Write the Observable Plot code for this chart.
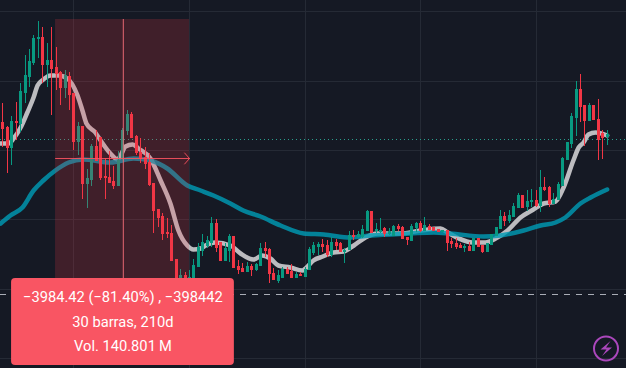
<!DOCTYPE html>
<html><head><meta charset="utf-8">
<script src="https://cdn.jsdelivr.net/npm/d3@7"></script>
<script src="https://cdn.jsdelivr.net/npm/@observablehq/plot@0.6"></script>
<style>html,body{margin:0;padding:0;background:#151924;overflow:hidden}#c{position:relative;width:626px;height:368px}#c svg.icon{position:absolute;left:592px;top:334px}</style>
</head><body><div id="c"></div>
<script>
const highs=[265,242,252,266,285,313,319,333,347,341,325,341,321,297,298,296,275,246,242,199,224,238,231,210,217,202,217,240,258,256,233,230,221,215,185,159,155,150,143,109,99,96,98,109,125,134,132,151,149,126,125,134,132,108,105,106,104,105,125,126,120,100,98,101,101,104,96,96,101,121,126,126,129,128,131,129,126,120,137,138,137,143,158,157,145,150,141,140,143,144,142,131,144,146,147,151,144,141,139,138,138,130,130,125,124,126,130,130,123,125,134,141,158,156,158,165,175,173,178,179,178,198,191,182,175,186,211,226,255,287,294,263,265,263,269,238,238];
const lows=[221,195,203,228,236,265,281,303,310,285,281,253,278,263,270,258,218,213,169,160,182,207,188,169,186,179,183,208,233,230,213,205,199,182,135,141,128,130,108,73,86,84,86,86,102,112,120,121,116,108,108,106,101,94,97,97,92,97,102,111,85,89,85,90,94,90,90,92,92,99,113,113,116,111,111,118,117,105,118,128,130,130,138,136,135,135,131,133,132,137,129,123,128,136,136,138,138,138,137,136,117,120,119,121,116,118,118,121,115,117,124,133,139,142,145,152,161,160,157,161,161,156,177,161,165,168,183,209,220,232,246,222,248,249,208,209,223];
const opens=[246,241,221,247,245,276,292,306,330,331,304,308,301,296,281,292,275,227,242,185,189,222,231,192,191,187,183,210,238,254,232,216,211,206,185,159,152,136,135,109,88,93,88,88,102,118,123,126,145,126,108,118,132,102,100,97,102,99,103,120,119,95,88,91,99,97,91,94,92,99,116,122,124,123,114,126,125,117,119,133,132,132,138,157,138,137,140,135,133,142,141,131,128,141,145,138,142,141,139,137,138,127,125,123,121,122,118,130,123,117,124,133,140,152,148,152,161,173,162,167,168,163,181,181,165,169,183,209,225,251,279,263,248,263,249,235,232];
const closes=[240,221,247,246,277,293,307,330,331,304,308,300,295,281,293,274,227,242,185,190,222,208,191,191,186,183,208,238,254,231,216,211,205,184,158,151,135,135,108,78,93,88,91,103,121,126,128,145,121,108,120,132,101,99,97,102,99,104,120,118,95,89,93,99,95,91,94,93,99,119,123,124,122,114,126,123,117,118,133,132,134,139,157,136,139,138,135,137,142,140,130,129,142,145,138,143,139,138,137,138,126,125,122,121,122,118,130,122,117,125,134,141,152,148,153,162,173,161,167,168,163,181,179,165,169,184,210,226,252,279,262,248,263,249,229,231,234];
const grayBars=[-0.5,1.3,2.4,4,5.5,6.9,7.8,9.1,10.7,12.5,14.5,16.8,17.9,18.8,20.8,22,24.2,25.8,26.5,27.6,29.2,30.5,33.2,35.5,37.7,39.5,41.5,42.9,44.5,45.6,47.8,51.2,53.5,56.4,58.4,60.2,62,64.7,67.4,68.1,69.9,72,74.4,76.7,79,81.6,84.3,87.2,89.5,94,98.5,100.1,102.6,105.7,108.6,110.9,113.6,116.5,119.4,121.7,124.4,126.2,128.4,129.6,130.7,131.8,133.4,136];
const grayVals=[225,225,230,241,256,271,283,289,293,293,290,273,258,245,236,228,215,209,213,222,224,220,210,188,165,138,123,119,120,123,126,123,115,109,113,110,103,101,98,100,108,112,116,117,123,131,135,135,135,138,140,136,130,126,126,130,138,151,159,165,167,181,208,221,226,234,236,233];
const tealBars=[-0.5,1.7,4.4,6.9,9.1,11.8,14.8,18.1,24.2,29.4,33.2,37,41.5,44.5,47.4,51.2,54.1,58,62.5,67.7,72.2,78.3,82.8,91.7,97,100.7,108.2,112,117.2,121,124.4,126.6,130,132.3,136];
const tealVals=[145,153,161,178,188,198,206,209,206,210,208,200,183,178,173,165,158,152,143,135,134,131,133,135,136,135,132,133,138,143,146,151,165,171,179];
const gridBars=[16,42,68,94,120];
const gridVals=[357,287,218,149,79,10];
const lastPrice=229, projection=74;
const measure={startBar:11.85,endBar:42,midBar:27.1,top:349,bottom:90,level:210};
const labelLines=["\u22123984.42 (\u221281.40%) , \u2212398442","30 barras, 210d","Vol. 140.801\u2009M"];
const labelVals=[71,46,22];

const bars=highs.map((h,i)=>({i,h,l:lows[i],o:opens[i],c:closes[i],col:closes[i]>=opens[i]?"#089981":"#f23645"}));
const gray=grayBars.map((b,i)=>({b,v:grayVals[i]}));
const teal=tealBars.map((b,i)=>({b,v:tealVals[i]}));
const Xmin=-0.54,Xmax=140.36;
const chart=Plot.plot({
  width:626,height:368,margin:0,
  style:{background:"#151924",display:"block"},
  x:{domain:[Xmin,Xmax],range:[0,626],axis:null},
  y:{domain:[0,368],range:[368,0],axis:null},
  marks:[
    Plot.ruleX(gridBars,{x:d=>d,stroke:"#252a35",strokeWidth:1,shapeRendering:"crispEdges"}),
    Plot.ruleY(gridVals,{y:d=>d,stroke:"#252a35",strokeWidth:1,shapeRendering:"crispEdges"}),
    Plot.ruleY([lastPrice],{y:d=>d,stroke:"#2a9d8c",strokeWidth:1,strokeDasharray:"1,3"}),
    Plot.ruleY([projection],{y:d=>d,stroke:"#a9adb6",strokeWidth:1,strokeDasharray:"6,6"}),
    Plot.line(gray,{x:"b",y:"v",stroke:"#bcbcc0",strokeWidth:4.5,curve:"monotone-x"}),
    Plot.line(teal,{x:"b",y:"v",stroke:"#009ab3",strokeOpacity:0.82,strokeWidth:4.5,curve:"monotone-x"}),
    Plot.ruleX(bars,{x:"i",y1:"l",y2:"h",stroke:"col",strokeWidth:1,shapeRendering:"crispEdges"}),
    Plot.ruleX(bars,{x:"i",y1:d=>Math.min(d.o,d.c)-0.5,y2:d=>Math.max(d.o,d.c)+0.5,stroke:"col",strokeWidth:3,shapeRendering:"crispEdges"}),
    Plot.rect([measure],{x1:"startBar",x2:"endBar",y1:"bottom",y2:"top",fill:"#f23645",fillOpacity:0.2}),
    Plot.ruleX([measure],{x:"midBar",y1:"bottom",y2:"top",stroke:"#f7707b",strokeOpacity:0.9,strokeWidth:1}),
    Plot.arrow([measure],{x1:"startBar",x2:"endBar",y1:"level",y2:"level",stroke:"#f7525f",strokeOpacity:0.9,strokeWidth:1,headLength:11,headAngle:97,bend:0}),
    Plot.rect([{a:1.95,b:52.1,t:90,u:3}],{x1:"a",x2:"b",y1:"u",y2:"t",fill:"#f95563",rx:4}),
    Plot.text(labelLines,{x:()=>27,y:(d,i)=>labelVals[i],text:d=>d,fill:"#ffffff",fontSize:14.7,fontFamily:"Roboto, sans-serif",textAnchor:"middle"})
  ]
});
document.getElementById("c").appendChild(chart);
document.getElementById("c").insertAdjacentHTML("beforeend",'<svg class="icon" width="28" height="30" viewBox="0 0 28 30"><circle cx="14" cy="14.5" r="12" fill="none" stroke="#ab47bc" stroke-width="2"/><path d="M18.5 7 L8.5 15.5 L14.5 15.5 L10 22 L20 13.5 L14 13.5 Z" fill="#ab47bc"/></svg>');
</script></body></html>
